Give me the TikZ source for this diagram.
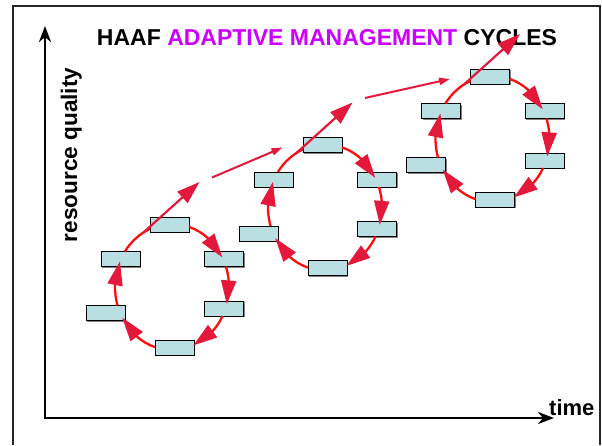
\documentclass[tikz,border=0pt]{standalone}
\usepackage{fontspec}
\setmainfont{Liberation Sans}
\usetikzlibrary{arrows.meta,bending,shadows,calc}
\definecolor{boxblue}{RGB}{185,223,227}
\definecolor{loopred}{RGB}{255,12,12}
\definecolor{tipred}{RGB}{228,24,58}
\definecolor{titleviolet}{RGB}{204,0,255}
\tikzset{
  stagebox/.style={draw=black, line width=0.9pt, fill=boxblue,
    minimum width=39pt, minimum height=15pt, inner sep=0pt,
    drop shadow={shadow xshift=1.2pt, shadow yshift=-1.2pt, fill=black!50, opacity=1}},
  looparc/.style={draw=loopred, line width=2.3pt},
  looptip/.style={-{Triangle[length=24pt,width=15pt,flex,color=tipred]}},
  climb/.style={draw=tipred, line width=2.2pt, -{Triangle[length=23pt,width=15pt]}},
  link/.style={draw=tipred, line width=2pt, -{Triangle[length=11pt,width=7pt]}},
  axisline/.style={line width=2.8pt, black, line join=miter,
    {Stealth[length=16pt,width=12pt,inset=5pt]}-{Stealth[length=16pt,width=12pt,inset=5pt]}},
  lbl/.style={font=\fontsize{22}{26}\selectfont\bfseries, inner sep=0pt},
}
\begin{document}
\begin{tikzpicture}[x=1pt,y=-1pt]
\useasboundingbox (0,0) rectangle (602,445);

% outer frame (open at the bottom edge)
\draw[line width=2.4pt, black!85] (13,445) -- (13,6) -- (600,6) -- (600,445);

% axes
\coordinate (origin) at (45,418);
\coordinate (ytip) at (45,26);
\coordinate (xtip) at (554,418);
\draw[axisline] (ytip) -- (origin) -- (xtip);

% labels
\node[lbl, font=\fontsize{23}{27}\selectfont\bfseries, anchor=base] (title) at (327,45)
  {HAAF \textcolor{titleviolet}{ADAPTIVE MANAGEMENT} CYCLES};
\node[lbl, anchor=base west] (tlabel) at (549,415) {time};
\node[lbl, font=\fontsize{22.6}{27}\selectfont\bfseries, rotate=90, anchor=base] (qlabel) at (77,155) {resource quality};

% three management cycles: six stage boxes around an ellipse each
\foreach \c/\cx/\cy in {1/172/287, 2/325/207.5, 3/492.5/139}{
  \begin{scope}[shift={(\cx,\cy)}]
    \coordinate (e\c) at (0,0);
    \node[stagebox] (top\c) at (-2.5,-62.5) {};
    \node[stagebox] (ru\c)  at (52,-28) {};
    \node[stagebox] (rl\c)  at (52,21.5) {};
    \node[stagebox] (bot\c) at (2.5,60.5) {};
    \node[stagebox] (ll\c)  at (-66.5,26) {};
    \node[stagebox] (lu\c)  at (-51.5,-28) {};
    \coordinate (go\c)   at (240:57 and 63);
    \coordinate (peak\c) at (27.5,-105);
    \coordinate (from\c) at (40,-109.5);
    \coordinate (to\c)   at (-42.5,-60);
  \end{scope}
}

% arcs from stage to stage (clockwise)
\foreach \c in {1,2,3}{
  \foreach \a/\b in {-72.6/-28, -19/16, 27.4/68, 107.4/151, 162.9/204}{
    \draw[looparc, looptip] (e\c) ++(\a:57 and 63)
      arc[start angle=\a, end angle=\b, x radius=57, y radius=63];
  }
  \draw[looparc] (e\c) ++(214.3:57 and 63)
    arc[start angle=214.3, end angle=247.3, x radius=57, y radius=63];
  % rise out of the cycle
  \draw[climb] (go\c) -- (peak\c);
}

% links leading into the next cycle
\draw[link] (from1) -- (to2);
\draw[link] (from2) -- (to3);
\end{tikzpicture}
\end{document}
